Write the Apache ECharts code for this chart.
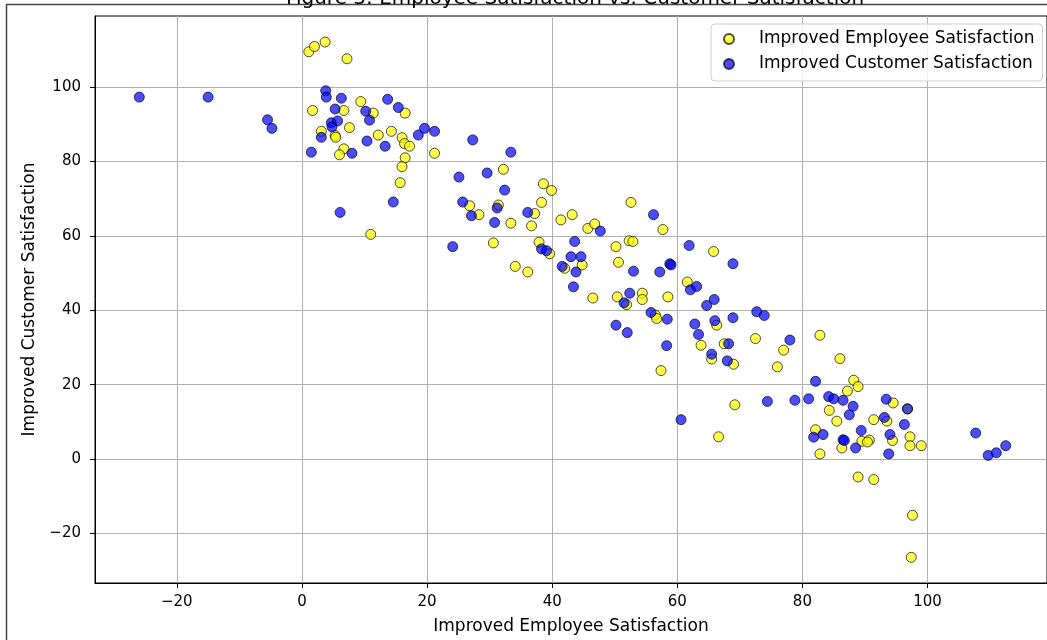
<!DOCTYPE html>
<html>
<head>
<meta charset="utf-8">
<script src="https://cdn.jsdelivr.net/npm/echarts@6/dist/echarts.min.js"></script>
<style>
html, body { margin: 0; padding: 0; background: #fff; }
#chart { width: 1047px; height: 640px; }
</style>
</head>
<body>
<div id="chart"></div>
<script>
// values
const empX = [1.1, 2.0, 3.7, 7.2, 1.7, 6.7, 9.4, 11.4, 3.1, 5.3, 5.4, 7.6, 12.2, 14.3, 16.0, 16.4, 17.2, 16.5, 16.0, 15.7,
  6.7, 6.0, 16.5, 11.0, 21.2, 32.2, 38.6, 39.9, 38.3, 52.6, 26.8, 28.3, 31.4, 33.4, 37.2, 36.7, 30.6, 34.1, 36.1, 37.9,
  39.6, 41.4, 43.2, 45.7, 46.8, 57.7, 44.8, 42.0, 46.5, 50.2, 50.6, 52.3, 52.9, 50.4, 54.4, 54.4, 51.9, 58.5, 56.5, 56.7,
  57.4, 65.8, 61.6, 66.3, 63.8, 65.5, 72.5, 67.5, 77.0, 76.0, 69.0, 82.8, 86.0, 88.2, 88.9, 87.2, 69.2, 66.6, 84.3, 85.5,
  94.5, 93.5, 91.4, 94.4, 97.2, 97.2, 99.0, 89.5, 90.7, 90.4, 86.3, 82.1, 82.8, 88.9, 91.4, 97.6, 97.4, 96.8];
const empY = [109.5, 110.9, 112.1, 107.6, 93.7, 93.7, 96.1, 93.0, 88.1, 87.0, 86.5, 89.1, 87.1, 88.1, 86.4, 84.8, 84.1, 81.0, 78.6, 74.3,
  83.4, 81.8, 93.0, 60.4, 82.2, 77.9, 74.0, 72.2, 69.0, 69.0, 68.1, 65.7, 68.3, 63.4, 66.0, 62.7, 58.1, 51.8, 50.3, 58.3,
  55.2, 64.3, 65.7, 62.0, 63.2, 61.7, 52.2, 51.3, 43.3, 57.1, 52.9, 58.7, 58.5, 43.6, 44.6, 42.9, 41.5, 43.6, 38.7, 37.8,
  23.8, 55.8, 47.6, 36.0, 30.6, 26.9, 32.4, 31.0, 29.3, 24.8, 25.5, 33.3, 27.0, 21.2, 19.5, 18.3, 14.6, 6.0, 13.1, 10.2,
  15.1, 10.2, 10.6, 5.0, 6.0, 3.6, 3.6, 4.8, 5.1, 4.6, 3.0, 7.9, 1.4, -4.8, -5.5, -15.1, -26.4, 13.5];

const custX = [-26.0, -15.0, -5.5, -4.8, 3.8, 3.9, 6.3, 5.3, 10.2, 10.8, 13.7, 15.4, 4.7, 5.7, 4.8, 3.1, 10.4, 13.3, 1.5, 8.0,
  14.6, 6.1, 18.6, 19.6, 21.2, 27.3, 33.4, 25.1, 29.6, 32.4, 25.7, 27.1, 31.2, 30.8, 36.1, 24.1, 38.3, 39.1, 47.7, 56.2,
  43.6, 43.0, 44.6, 41.6, 43.8, 43.4, 53.0, 57.2, 58.8, 59.0, 52.4, 51.5, 55.8, 58.4, 50.2, 52.0, 58.3, 61.9, 62.1, 63.1,
  65.9, 64.7, 62.8, 66.0, 63.4, 65.5, 68.9, 72.7, 73.9, 68.9, 68.2, 78.0, 68.0, 82.1, 74.4, 78.8, 81.0, 84.2, 85.0, 86.5,
  88.1, 87.5, 93.4, 96.8, 93.1, 96.3, 89.4, 94.0, 93.8, 88.5, 86.5, 86.7, 81.8, 83.3, 107.7, 109.7, 111.0, 112.5, 60.6];
const custY = [97.3, 97.3, 91.2, 88.9, 99.0, 97.3, 97.0, 94.1, 93.5, 91.1, 96.7, 94.5, 90.4, 90.9, 89.3, 86.5, 85.5, 84.1, 82.5, 82.2,
  69.1, 66.3, 87.1, 88.9, 88.1, 85.8, 82.5, 75.8, 76.9, 72.3, 69.1, 65.4, 67.5, 63.6, 66.3, 57.1, 56.5, 56.0, 61.3, 65.7,
  58.5, 54.4, 54.4, 51.8, 50.3, 46.3, 50.5, 50.3, 52.5, 52.2, 44.6, 42.0, 39.4, 37.6, 36.0, 34.0, 30.5, 57.4, 45.5, 46.4,
  42.9, 41.3, 36.3, 37.2, 33.5, 28.2, 52.5, 39.6, 38.6, 38.0, 31.0, 32.0, 26.4, 20.9, 15.5, 15.8, 16.2, 16.8, 16.2, 15.8,
  14.2, 11.9, 16.1, 13.5, 11.2, 9.3, 7.7, 6.6, 1.4, 3.0, 5.2, 5.0, 5.9, 6.6, 7.0, 1.0, 1.7, 3.6, 10.6];

const xTicks = [-20, 0, 20, 40, 60, 80, 100];
const yTicks = [-20, 0, 20, 40, 60, 80, 100];

const zip = (xs, ys) => xs.map((x, i) => [x, ys[i]]);
const fmt = (v) => (v < 0 ? '\u2212' + Math.abs(v) : String(v));

const font = 'DejaVu Sans';
const chart = echarts.init(document.getElementById('chart'), null, { renderer: 'canvas' });

const axisCommon = {
  type: 'value',
  nameLocation: 'middle',
  nameTextStyle: { fontFamily: font, fontSize: 17, color: '#000' },
  axisLine: { show: true, onZero: false, lineStyle: { color: '#000', width: 1 } },
  axisTick: { show: true, inside: false, length: 5, lineStyle: { color: '#000' } },
  splitLine: { show: true, lineStyle: { color: '#b0b0b0', width: 1 } },
}

const option = {
  animation: false,
  backgroundColor: '#fff',
  title: {
    text: 'Figure 3: Employee Satisfaction vs. Customer Satisfaction',
    left: 570,
    textAlign: 'center',
    top: -16,
    textStyle: { fontFamily: font, fontSize: 20, fontWeight: 'normal', color: '#000' },
    z: 10,
  },
  graphic: [
    {
      type: 'rect',
      z: 1,
      shape: { x: 6.5, y: 4.5, width: 1200, height: 800 },
      style: { fill: 'none', stroke: '#444', lineWidth: 1.5 },
    },
  ],
  grid: {
    left: 95,
    top: 16,
    width: 955,
    height: 570,
    show: true,
    backgroundColor: '#fff',
    borderColor: '#000',
    borderWidth: 1,
  },
  legend: {
    orient: 'vertical',
    left: 711,
    top: 24,
    padding: [6, 8, 8, 12],
    itemGap: 7,
    itemWidth: 10,
    itemHeight: 10,
    backgroundColor: 'rgba(255,255,255,0.8)',
    borderColor: '#cccccc',
    borderWidth: 1,
    borderRadius: 4,
    textStyle: { fontFamily: font, fontSize: 17, color: '#000', lineHeight: 18, padding: [0, 0, 0, 20] },
    data: [
      { name: 'Improved Employee Satisfaction', icon: 'circle' },
      { name: 'Improved Customer Satisfaction', icon: 'circle' },
    ],
  },
  xAxis: Object.assign({}, axisCommon, {
    name: 'Improved Employee Satisfaction',
    nameGap: 35,
    min: -33.08,
    max: 119.1,
    axisTick: Object.assign({}, axisCommon.axisTick, { customValues: xTicks }),
    axisLabel: { customValues: xTicks, formatter: fmt, margin: 12, fontFamily: font, fontSize: 15, color: '#000' },
  }),
  yAxis: Object.assign({}, axisCommon, {
    name: 'Improved Customer Satisfaction',
    nameGap: 57,
    min: -33.3,
    max: 119.1,
    axisTick: Object.assign({}, axisCommon.axisTick, { customValues: yTicks }),
    axisLabel: { customValues: yTicks, formatter: fmt, margin: 14, fontFamily: font, fontSize: 15, color: '#000' },
  }),
  series: [
    {
      name: 'Improved Employee Satisfaction',
      type: 'scatter',
      symbolSize: 10,
      data: zip(empX, empY),
      itemStyle: { color: '#ffff00', opacity: 0.7, borderColor: '#000', borderWidth: 1 },
    },
    {
      name: 'Improved Customer Satisfaction',
      type: 'scatter',
      symbolSize: 10,
      data: zip(custX, custY),
      itemStyle: { color: '#0000ff', opacity: 0.7, borderColor: '#000', borderWidth: 1 },
    },
  ],
}

chart.setOption(option);
</script>
</body>
</html>
